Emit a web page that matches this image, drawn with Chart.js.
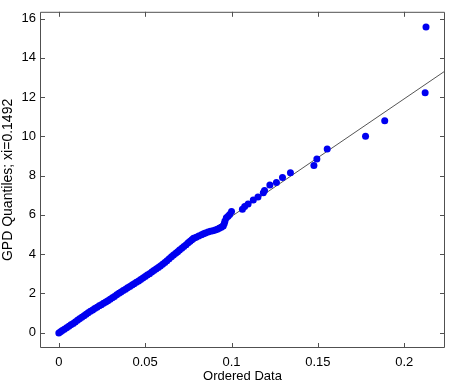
<!DOCTYPE html>
<html>
<head>
<meta charset="utf-8">
<script src="https://cdn.jsdelivr.net/npm/chart.js@4.4.1/dist/chart.umd.min.js"></script>
<style>
  html, body { margin: 0; padding: 0; background: #fff; }
  canvas { display: block; }
</style>
</head>
<body>
<canvas id="qq-chart" width="449" height="381"></canvas>
<script>
// ordered data (x) vs GPD quantiles (y)
const orderedData = [
  0.0000, 0.0010, 0.0020, 0.0032, 0.0045, 0.0058, 0.0070, 0.0083, 0.0095, 0.0108,
  0.0120, 0.0133, 0.0146, 0.0158, 0.0170, 0.0183, 0.0196, 0.0208, 0.0221, 0.0234,
  0.0246, 0.0259, 0.0272, 0.0284, 0.0297, 0.0310, 0.0322, 0.0335, 0.0348, 0.0360,
  0.0373, 0.0386, 0.0398, 0.0411, 0.0424, 0.0436, 0.0449, 0.0462, 0.0474, 0.0487,
  0.0500, 0.0512, 0.0525, 0.0538, 0.0550, 0.0563, 0.0576, 0.0588, 0.0601, 0.0614,
  0.0626, 0.0639, 0.0652, 0.0664, 0.0677, 0.0688, 0.0699, 0.0712, 0.0724, 0.0737,
  0.0749, 0.0760, 0.0770, 0.0780, 0.0795, 0.0810, 0.0826, 0.0838, 0.0849, 0.0864,
  0.0878, 0.0892, 0.0906, 0.0918, 0.0929, 0.0941, 0.0952, 0.0958, 0.0962, 0.0970,
  0.0980, 0.0989, 0.1000, 0.1063, 0.1076, 0.1096, 0.1126, 0.1153, 0.1184, 0.1191,
  0.1222, 0.1260, 0.1295, 0.1341, 0.1477, 0.1494, 0.1554, 0.1776, 0.1887, 0.2121,
  0.2126
];
const gpdQuantiles = [
  -0.03, 0.04, 0.10, 0.17, 0.24, 0.32, 0.39, 0.46, 0.54, 0.62,
  0.70, 0.78, 0.86, 0.93, 1.01, 1.08, 1.15, 1.22, 1.29, 1.36,
  1.42, 1.49, 1.55, 1.62, 1.69, 1.77, 1.84, 1.92, 2.00, 2.07,
  2.14, 2.21, 2.28, 2.35, 2.42, 2.49, 2.56, 2.63, 2.70, 2.78,
  2.86, 2.93, 3.00, 3.08, 3.16, 3.24, 3.31, 3.39, 3.48, 3.57,
  3.66, 3.76, 3.86, 3.95, 4.04, 4.12, 4.20, 4.29, 4.38, 4.48,
  4.57, 4.65, 4.73, 4.80, 4.86, 4.92, 4.98, 5.03, 5.07, 5.12,
  5.16, 5.19, 5.22, 5.26, 5.31, 5.37, 5.43, 5.56, 5.68, 5.85,
  5.93, 6.01, 6.17, 6.29, 6.42, 6.55, 6.75, 6.91, 7.13, 7.24,
  7.52, 7.65, 7.90, 8.14, 8.51, 8.85, 9.36, 10.00, 10.80, 12.22,
  15.58
];

// reference line end points
const refLineX = [0.0000, 0.2236];
const refLineY = [-0.08, 13.33];

const xTicks = [0, 0.05, 0.1, 0.15, 0.2];
const xTickLabels = ['0', '0.05', '0.1', '0.15', '0.2'];
const yTicks = [0, 2, 4, 6, 8, 10, 12, 14, 16];

const axisColor = '#505050';
const fontFamily = '"Liberation Sans", Arial, sans-serif';

// MATLAB-like box with inward tick marks
const boxTicks = {
  id: 'boxTicks',
  afterDraw(chart) {
    const { ctx, chartArea: a, scales } = chart;
    ctx.save();
    ctx.strokeStyle = axisColor;
    ctx.lineWidth = 1;
    ctx.beginPath();
    ctx.rect(a.left + 0.5, a.top + 0.5, a.right - a.left - 1, a.bottom - a.top - 1);
    scales.x.ticks.forEach(t => {
      const px = Math.round(scales.x.getPixelForValue(t.value)) + 0.5;
      ctx.moveTo(px, a.bottom); ctx.lineTo(px, a.bottom - 5);
      ctx.moveTo(px, a.top); ctx.lineTo(px, a.top + 5);
    });
    scales.y.ticks.forEach(t => {
      const py = Math.round(scales.y.getPixelForValue(t.value)) + 0.5;
      ctx.moveTo(a.left, py); ctx.lineTo(a.left + 5, py);
      ctx.moveTo(a.right, py); ctx.lineTo(a.right - 5, py);
    });
    ctx.stroke();
    ctx.restore();
  }
};

new Chart(document.querySelector('#qq-chart').getContext('2d'), {
  type: 'scatter',
  data: {
    datasets: [
      {
        type: 'line',
        data: refLineX.map((x, i) => ({ x: x, y: refLineY[i] })),
        borderColor: '#555',
        borderWidth: 1,
        pointRadius: 0,
        fill: false,
        order: 2
      },
      {
        data: orderedData.map((x, i) => ({ x: x, y: gpdQuantiles[i] })),
        backgroundColor: '#0000f0',
        borderWidth: 0,
        pointRadius: 3.5,
        order: 1
      }
    ]
  },
  options: {
    responsive: false,
    animation: false,
    layout: { padding: { top: 0, right: 0, bottom: 0, left: 0 } },
    plugins: { legend: { display: false }, tooltip: { enabled: false } },
    scales: {
      x: {
        type: 'linear',
        min: -0.0109,
        max: 0.2236,
        afterBuildTicks: s => { s.ticks = xTicks.map(v => ({ value: v })); },
        afterFit: s => { s.height = 33; },
        grid: { display: false, drawTicks: false },
        border: { display: false },
        ticks: {
          padding: 7,
          color: '#000',
          font: { family: fontFamily, size: 13 },
          callback: (v, i) => xTickLabels[i]
        },
        title: {
          display: true,
          text: 'Ordered Data',
          color: '#000',
          font: { family: fontFamily, size: 13 },
          padding: { top: -3, bottom: -3 }
        }
      },
      y: {
        type: 'linear',
        min: -0.79,
        max: 16.35,
        afterBuildTicks: s => { s.ticks = yTicks.map(v => ({ value: v })); },
        afterFit: s => { s.width = 40; },
        grid: { display: false, drawTicks: false },
        border: { display: false },
        ticks: {
          padding: 4,
          color: '#000',
          font: { family: fontFamily, size: 13 },
          callback: v => String(v)
        },
        title: {
          display: true,
          text: 'GPD Quantiles; xi=0.1492',
          color: '#000',
          font: { family: fontFamily, size: 14 },
          padding: { top: 0, bottom: 0 }
        }
      }
    }
  },
  plugins: [boxTicks]
});
</script>
</body>
</html>
